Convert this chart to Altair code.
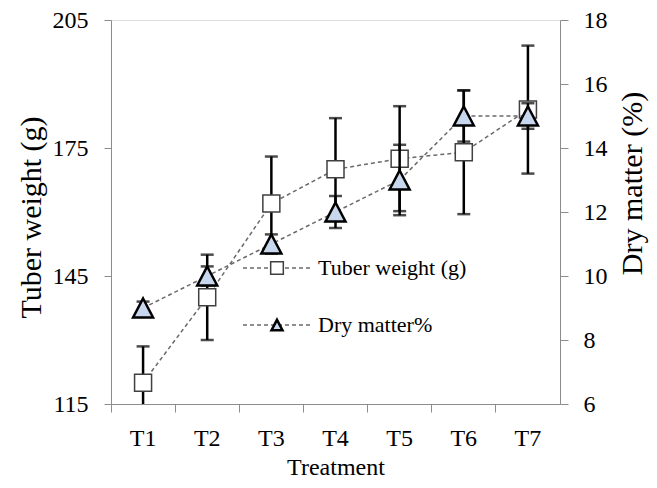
import altair as alt
import pandas as pd

treatments = ["T1", "T2", "T3", "T4", "T5", "T6", "T7"]
tuber_weight = [120, 140, 162, 170, 172.5, 174, 184]
tuber_err = [8.5, 10, 11, 12, 12.3, 14.5, 15]
dry_matter = [9, 10, 11, 12, 13, 15, 15]
dry_err = [0.2, 0.3, 0.3, 0.5, 1.1, 0.8, 0.4]

df = pd.DataFrame({
    "t": treatments,
    "tw": tuber_weight,
    "tw_lo": [v - e for v, e in zip(tuber_weight, tuber_err)],
    "tw_hi": [v + e for v, e in zip(tuber_weight, tuber_err)],
    "dm": dry_matter,
    "dm_lo": [v - e for v, e in zip(dry_matter, dry_err)],
    "dm_hi": [v + e for v, e in zip(dry_matter, dry_err)],
})

FONT = "Liberation Serif, Times New Roman, serif"
AX = "#8c8c8c"
TRI = "M0,-0.95L1,0.95L-1,0.95Z"

xenc = alt.X("t:N", sort=treatments, title="Treatment",
             scale=alt.Scale(type="band", paddingInner=0, paddingOuter=0),
             axis=alt.Axis(bandPosition=0, labelAngle=0, labelFontSize=24, titleFontSize=24,
                           labelFont=FONT, titleFont=FONT, labelColor="black", titleColor="black",
                           domainColor=AX, tickColor=AX, tickSize=8, labelPadding=14,
                           titleFontWeight="normal", titleY=51, titleBaseline="top"))

base = alt.Chart(df)

ysc_t = alt.Scale(domain=[115, 205], nice=False, zero=False)
ysc_d = alt.Scale(domain=[6, 18], nice=False, zero=False)

yax_t = alt.Axis(values=[115, 145, 175, 205], grid=False, orient="left", title="Tuber weight (g)",
                 labelFontSize=24, titleFontSize=30, labelFont=FONT, titleFont=FONT,
                 labelColor="black", titleColor="black", domainColor=AX, tickColor=AX,
                 tickSize=7, labelPadding=16, titleFontWeight="normal",
                 titleAngle=270, titleX=-80, titleY=197, titleAlign="center", titleBaseline="middle")
yax_d = alt.Axis(values=[6, 8, 10, 12, 14, 16, 18], grid=False, orient="right", title="Dry matter (%)",
                 labelFontSize=24, titleFontSize=30, labelFont=FONT, titleFont=FONT,
                 labelColor="black", titleColor="black", domainColor=AX, tickColor=AX,
                 tickSize=8, labelPadding=15, titleFontWeight="normal",
                 titleAngle=270, titleX=72, titleY=163, titleAlign="center", titleBaseline="middle")

t_line = base.mark_line(color="#6a6a6a", strokeWidth=1.5, strokeDash=[4, 3]).encode(
    x=xenc, y=alt.Y("tw:Q", scale=ysc_t, axis=yax_t))
t_rule = base.mark_rule(color="black", strokeWidth=2.5, clip=True).encode(
    x=xenc, y=alt.Y("tw_lo:Q", scale=ysc_t), y2="tw_hi:Q")
t_cap_lo = base.mark_tick(color="black", size=13, thickness=2.5, clip=True).encode(
    x=xenc, y=alt.Y("tw_lo:Q", scale=ysc_t))
t_cap_hi = base.mark_tick(color="black", size=13, thickness=2.5, clip=True).encode(
    x=xenc, y=alt.Y("tw_hi:Q", scale=ysc_t))
t_pts = base.mark_point(shape="square", size=289, filled=True, fill="white", stroke="#404040",
                        strokeWidth=1.5, opacity=1).encode(
    x=xenc, y=alt.Y("tw:Q", scale=ysc_t))

tuber = alt.layer(t_line, t_rule, t_cap_lo, t_cap_hi, t_pts)

d_line = base.mark_line(color="#6a6a6a", strokeWidth=1.5, strokeDash=[4, 3]).encode(
    x=xenc, y=alt.Y("dm:Q", scale=ysc_d, axis=yax_d))
d_rule = base.mark_rule(color="black", strokeWidth=2.5).encode(
    x=xenc, y=alt.Y("dm_lo:Q", scale=ysc_d), y2="dm_hi:Q")
d_cap_lo = base.mark_tick(color="black", size=13, thickness=2.5).encode(
    x=xenc, y=alt.Y("dm_lo:Q", scale=ysc_d))
d_cap_hi = base.mark_tick(color="black", size=13, thickness=2.5).encode(
    x=xenc, y=alt.Y("dm_hi:Q", scale=ysc_d))
d_pts = base.mark_point(shape=TRI, size=400, filled=True, fill="#c8d6ee", stroke="black",
                        strokeWidth=2.5, opacity=1).encode(
    x=xenc, y=alt.Y("dm:Q", scale=ysc_d))

# legend
leg = alt.Chart(pd.DataFrame({"a": [0]}))
leg_labels = ["Tuber weight (g)", "Dry matter%"]
l1_line = leg.mark_rule(color="#6a6a6a", strokeWidth=1.5, strokeDash=[4, 3]).encode(
    x=alt.value(132), x2=alt.value(199), y=alt.value(248))
l1_pt = leg.mark_point(shape="square", size=160, filled=True, fill="white", stroke="#404040",
                       strokeWidth=1.5, opacity=1).encode(x=alt.value(166), y=alt.value(248))
l1_txt = leg.mark_text(text=leg_labels[0], font=FONT, fontSize=22, align="left", baseline="middle",
                       color="black").encode(x=alt.value(207), y=alt.value(248))
l2_line = leg.mark_rule(color="#6a6a6a", strokeWidth=1.5, strokeDash=[4, 3]).encode(
    x=alt.value(132), x2=alt.value(199), y=alt.value(305))
l2_pt = leg.mark_point(shape=TRI, size=120, filled=True, fill="#c8d6ee", stroke="black",
                       strokeWidth=2.5, opacity=1).encode(x=alt.value(166), y=alt.value(305))
l2_txt = leg.mark_text(text=leg_labels[1], font=FONT, fontSize=22, align="left", baseline="middle",
                       color="black").encode(x=alt.value(207), y=alt.value(305))

dry = alt.layer(d_line, d_rule, d_cap_lo, d_cap_hi, d_pts,
                l1_line, l1_pt, l1_txt, l2_line, l2_pt, l2_txt)

chart = alt.layer(tuber, dry).resolve_scale(y="independent").properties(
    width=449, height=384,
    padding={"left": 103, "top": 12, "right": 89, "bottom": 76},
    autosize=alt.AutoSizeParams(type="none"),
).configure_view(stroke=None).configure(background="white")

chart.save("out.html", embed_options={"renderer": "svg", "actions": False})
